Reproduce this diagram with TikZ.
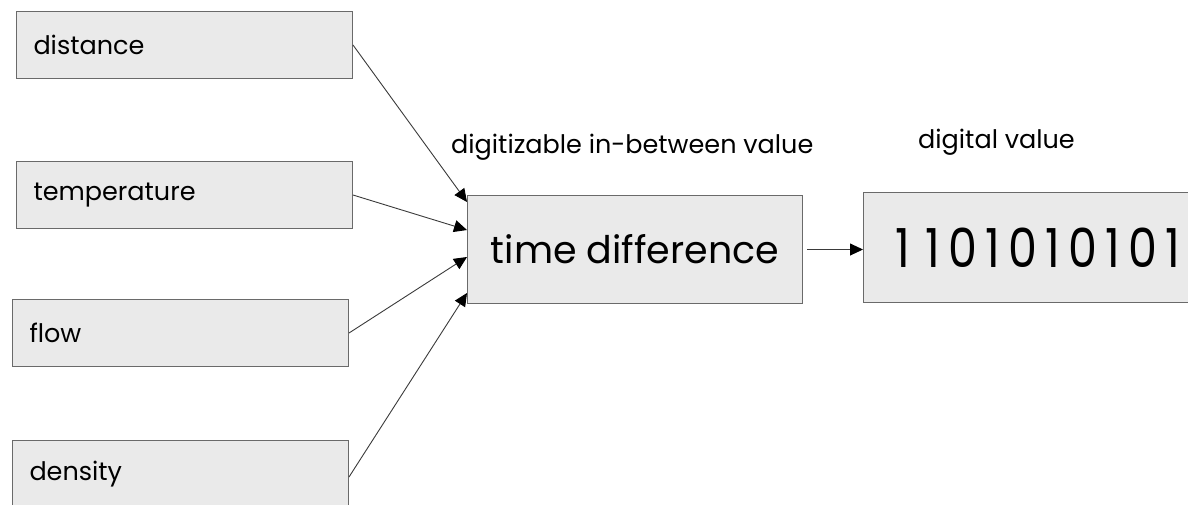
\documentclass[tikz,border=0pt]{standalone}
\usepackage{fontspec}
\setmainfont{Poppins}
\usetikzlibrary{arrows.meta,calc}
\definecolor{boxfill}{HTML}{EAEAEA}
\definecolor{boxline}{HTML}{6A6A6A}
\definecolor{wire}{HTML}{3A3A3A}
% one digit of the binary word, on a fixed pitch
\newcommand\bitcell[1]{\makebox[30pt]{#1}}
\begin{document}
\begin{tikzpicture}[x=1pt,y=-1pt,
  box/.style={draw=boxline, fill=boxfill, line width=1pt, anchor=north west, inner sep=0pt},
  srcbox/.style={box, minimum width=336pt, minimum height=67pt, text width=302pt, align=left,
    font=\fontsize{25.5}{30}\selectfont},
  caption/.style={anchor=base west, inner sep=0pt, font=\fontsize{25.5}{30}\selectfont},
  conn/.style={wire, line width=0.9pt, -{Triangle[length=13pt,width=12pt,color=black]}}
]
\clip (0,0) rectangle (1188,504);

% measured quantities
\node[srcbox] (dist) at (16,11) {distance};
\node[srcbox] (temp) at (16,161) {temperature};
\node[srcbox] (flow) at (12,299) {flow};
\node[srcbox] (dens) at (12,440) {density};

% intermediate quantity
\node[box, minimum width=335pt, minimum height=108pt, font=\fontsize{38}{44}\selectfont] (td) at (467,195) {time difference};
\node[caption] (cap1) at (451,153) {digitizable in-between value};

% digital result
\node[box, minimum width=380pt, minimum height=110pt, text width=332pt, align=left,
  font=\fontsize{46}{52}\selectfont] (dig) at (863,192)
  {\scalebox{1}[1.17]{\bitcell1\bitcell1\bitcell0\bitcell1\bitcell0\bitcell1\bitcell0\bitcell1\bitcell0\bitcell1}};
\node[caption] (cap2) at (918,148) {digital value};

% inputs into the time difference
\coordinate (in1) at ([yshift=-7pt]td.north west);
\coordinate (in2) at ([yshift=-35pt]td.north west);
\coordinate (in3) at ([yshift=-62pt]td.north west);
\coordinate (in4) at ([yshift=-98pt]td.north west);
\coordinate (d4) at ([yshift=-3pt]dens.east);

\draw[conn] (dist.east) -- (in1);
\draw[conn] (temp.east) -- (in2);
\draw[conn] (flow.east) -- (in3);
\draw[conn] (d4) -- (in4);
\draw[conn] ([xshift=4pt]td.east) -- (td.east -| dig.west);
\end{tikzpicture}
\end{document}
